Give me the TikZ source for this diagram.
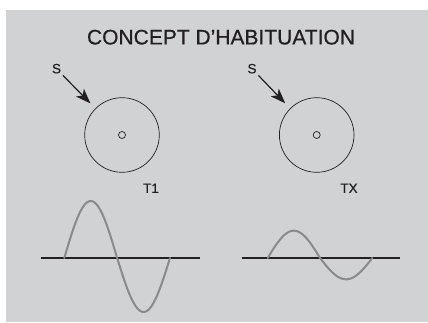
\documentclass[tikz,border=0pt]{standalone}
\usepackage{fontspec}
\setmainfont{Liberation Sans}
\usetikzlibrary{arrows.meta,positioning}
\definecolor{PanelGrey}{HTML}{D1D2D4}
\definecolor{InkDark}{HTML}{231F20}
\definecolor{WaveGrey}{HTML}{8A8A8A}
\tikzset{
  every node/.style={text=InkDark},
  cell/.style={draw=InkDark,circle,line width=0.7pt,minimum size=74.6pt,inner sep=0pt},
  nucleus/.style={draw=InkDark,circle,line width=0.7pt,minimum size=7pt,inner sep=0pt},
  stim/.style={-{Stealth[length=15pt,width=11pt,inset=4pt]},line width=1.2pt,InkDark,shorten >=7pt,shorten <=1pt},
  baseline/.style={line width=2.8pt,InkDark},
  wave/.style={line width=2pt,WaveGrey,line cap=round},
  lbl/.style={font=\fontsize{13.5}{15}\selectfont\addfontfeature{FakeBold=0.4},inner sep=1pt}
}
\begin{document}
\begin{tikzpicture}[x=1pt,y=-1pt]
  \useasboundingbox (0,0) rectangle (428,323);
  % --- panel ---
  \fill[PanelGrey] (6,10) rectangle (428,322);
  \node[font=\fontsize{21}{24}\selectfont\addfontfeature{FakeBold=0.6}] (title) at (221,37.2) {CONCEPT D'HABITUATION};
  % --- first stimulus (T1) ---
  \node[cell] (cellA) at (122,135) {};
  \node[nucleus] (nucA) at (cellA.center) {};
  \node[lbl] (sA) at (56.5,68.7) {S};
  \draw[stim] (sA.south east) -- (cellA.north west);
  \node[lbl] (tA) at (151,188.3) {T1};
  % --- after repetition (TX) ---
  \node[cell] (cellB) at (316.7,135) {};
  \node[nucleus] (nucB) at (cellB.center) {};
  \node[lbl] (sB) at (252,68.7) {S};
  \draw[stim] (sB.south east) -- (cellB.north west);
  \node[lbl] (tB) at (349,188.3) {TX};
  % --- responses ---
  \coordinate (axA0) at (41,258);
  \coordinate (axA1) at (200,258);
  \coordinate (axB0) at (241.7,258);
  \coordinate (axB1) at (400,258);
  \draw[baseline] (axA0) -- (axA1);
  \draw[baseline] (axB0) -- (axB1);
  \draw[wave] plot[domain=0:180,samples=40] ({64.3+\x/360*105.7},{258-57*sin(\x)})
    -- plot[domain=180:360,samples=40] ({64.3+\x/360*105.7},{258-54*sin(\x)});
  \draw[wave] plot[domain=0:180,samples=40] ({267.7+\x/360*104.6},{258-27.3*sin(\x)})
    -- plot[domain=180:360,samples=40] ({267.7+\x/360*104.6},{258-21.3*sin(\x)});
\end{tikzpicture}
\end{document}
